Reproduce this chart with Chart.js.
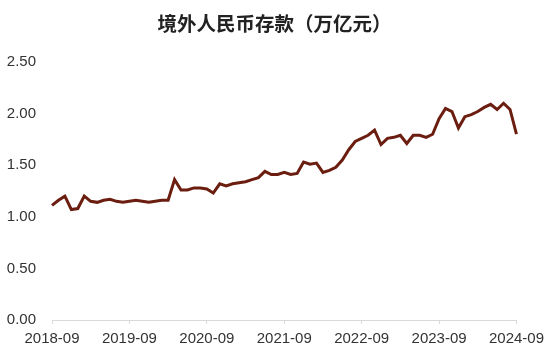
<!DOCTYPE html>
<html>
<head>
<meta charset="utf-8">
<script src="https://cdn.jsdelivr.net/npm/chart.js@4/dist/chart.umd.min.js"></script>
<style>
  html, body { margin: 0; padding: 0; background: #fff; }
  #wrap { width: 550px; height: 359px; }
</style>
</head>
<body>
<div id="wrap"><canvas id="chart"></canvas></div>
<script>
// 境外人民币存款, monthly, 2018-09 .. 2024-09 (万亿元)
const chartTitle = '境外人民币存款（万亿元）';
const yearTicks = ['2018-09', '2019-09', '2020-09', '2021-09', '2022-09', '2023-09', '2024-09'];
const yTicks = [0, 0.5, 1, 1.5, 2, 2.5];
const deposits = [
  1.11, 1.16, 1.20, 1.07, 1.08, 1.20, 1.15, 1.14, 1.16, 1.17, 1.15, 1.14,
  1.15, 1.16, 1.15, 1.14, 1.15, 1.16, 1.16, 1.36, 1.26, 1.26, 1.28, 1.28,
  1.27, 1.23, 1.32, 1.30, 1.32, 1.33, 1.34, 1.36, 1.38, 1.44, 1.41, 1.41,
  1.43, 1.41, 1.42, 1.53, 1.51, 1.52, 1.43, 1.45, 1.48, 1.55, 1.65, 1.73,
  1.76, 1.79, 1.84, 1.70, 1.76, 1.77, 1.79, 1.71, 1.79, 1.79, 1.77, 1.80,
  1.95, 2.05, 2.02, 1.86, 1.97, 1.99, 2.02, 2.06, 2.09, 2.04, 2.10, 2.04,
  1.80
];

// month labels, one per value, starting 2018-09
const months = [];
for (let y = 2018, m = 9; months.length < deposits.length; m++) {
  if (m > 12) { m = 1; y++; }
  months.push(y + '-' + String(m).padStart(2, '0'));
}

const axisFont = { family: '"Liberation Sans", Arial, sans-serif', size: 15 };

new Chart(document.getElementById('chart'), {
  type: 'line',
  data: {
    labels: months,
    datasets: [{
      data: deposits,
      borderColor: '#6b1d10',
      borderWidth: 3,
      pointRadius: 0,
      tension: 0,
      fill: false
    }]
  },
  options: {
    responsive: true,
    maintainAspectRatio: false,
    animation: false,
    devicePixelRatio: 1,
    layout: { padding: { left: 7, right: 8, top: 0, bottom: 5 } },
    plugins: {
      legend: { display: false },
      tooltip: { enabled: false },
      title: {
        display: true,
        text: chartTitle,
        color: '#222',
        font: { family: '"Noto Sans CJK SC", sans-serif', size: 19.5, weight: 'bold' },
        padding: { top: 12, bottom: 26.6 }
      }
    },
    scales: {
      x: {
        type: 'category',
        offset: false,
        border: { color: '#d9d9d9', width: 1 },
        grid: {
          drawOnChartArea: false,
          drawTicks: true,
          tickLength: 4,
          tickColor: ctx => yearTicks.includes(months[ctx.index]) ? '#d9d9d9' : 'rgba(0,0,0,0)'
        },
        ticks: {
          autoSkip: false,
          maxRotation: 0,
          padding: 6,
          color: '#333',
          font: axisFont,
          callback: (v, i) => yearTicks.includes(months[i]) ? months[i] : ''
        }
      },
      y: {
        min: yTicks[0],
        max: yTicks[yTicks.length - 1],
        border: { display: false },
        grid: { display: false, drawTicks: false },
        afterBuildTicks: scale => { scale.ticks = yTicks.map(v => ({ value: v })); },
        afterFit: scale => { scale.width = 45; },
        ticks: {
          padding: 16,
          color: '#333',
          font: axisFont,
          callback: v => Number(v).toFixed(2)
        }
      }
    }
  }
});
</script>
</body>
</html>
